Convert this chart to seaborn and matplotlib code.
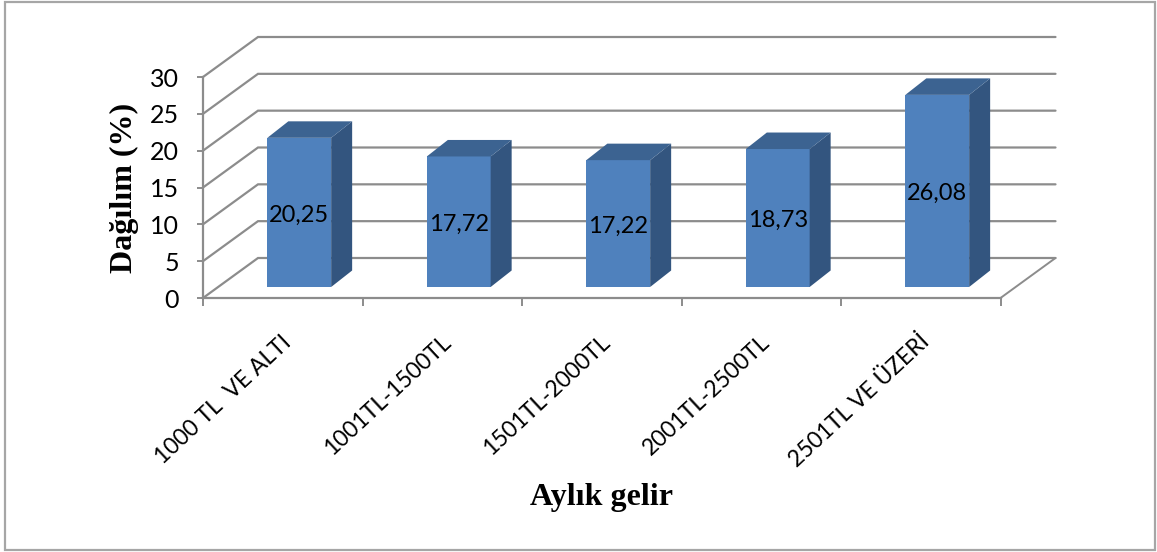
import matplotlib
matplotlib.use("Agg")
import matplotlib.pyplot as plt
from matplotlib.patches import Rectangle
from matplotlib.transforms import ScaledTranslation
import numpy as np
import pandas as pd
import seaborn as sns

gelir = ["1000 TL  VE ALTI", "1001TL-1500TL", "1501TL-2000TL", "2001TL-2500TL", "2501TL VE ÜZERİ"]
dagilim = [20.25, 17.72, 17.22, 18.73, 26.08]
etiket = ["20,25", "17,72", "17,22", "18,73", "26,08"]
yticks = [0, 5, 10, 15, 20, 25, 30]

sns.set_style("white")
plt.rcParams["font.family"] = ["Lato", "DejaVu Sans"]

grid_renk = "#8c8c8c"
W, H = 1157, 552
fig = plt.figure(figsize=(W / 100, H / 100), dpi=100)
ax = fig.add_axes([203 / W, (H - 298) / H, 797.5 / W, 221 / H])
ax.patch.set_alpha(0)

df = pd.DataFrame({"gelir": gelir, "dagilim": dagilim})
sns.barplot(data=df, x="gelir", y="dagilim", color="#4F81BD", saturation=1,
            width=0.4, ax=ax, zorder=3, linewidth=0)
ax.set_xlim(-0.5, 4.5)
ax.set_ylim(0, 30)

# pixel sizes of the fake 3d box, as data units
px = 797.5 / 5
py = 221 / 30
dx, dy = 55 / px, 40 / py      # back wall
bx, by = 21 / px, 16.5 / py    # bar depth
sx, sy = 16.5 / px, 11 / py    # bars stand inside the floor

# walls
for v in yticks:
    ax.plot([-0.5, -0.5 + dx, 4.5 + dx], [v, v + dy, v + dy], color=grid_renk,
            lw=1.6, clip_on=False, zorder=1, solid_joinstyle="miter")
ax.plot([4.5, 4.5 + dx], [0, dy], color=grid_renk, lw=1.4, clip_on=False, zorder=1)

# bars moved on the floor, side and top faces from the bar itself
for bar in ax.containers[0]:
    bar.set_x(bar.get_x() + sx)
    bar.set_y(sy)
    x0, x1 = bar.get_x(), bar.get_x() + bar.get_width()
    y0, y1 = bar.get_y(), bar.get_y() + bar.get_height()
    ax.fill([x1, x1 + bx, x1 + bx, x1], [y0, y0 + by, y1 + by, y1],
            color="#33557F", lw=0, clip_on=False, zorder=3)
    ax.fill([x0, x0 + bx, x1 + bx, x1], [y1, y1 + by, y1 + by, y1],
            color="#3C6391", lw=0, clip_on=False, zorder=3)

yazilar = ax.bar_label(ax.containers[0], labels=etiket, label_type="center", fontsize=17,
                       color="black", zorder=5)
for t in yazilar:
    t.xyann = (0, -2)

sns.despine(ax=ax, top=True, right=True)
for s in ["left", "bottom"]:
    ax.spines[s].set_color(grid_renk)
    ax.spines[s].set_linewidth(1.6)
    ax.spines[s].set_zorder(2)

ax.set_yticks(yticks)
ax.set_xticks(range(5))
ax.set_xticklabels(gelir, rotation=43, ha="right", rotation_mode="anchor")
ax.set_xticks(np.arange(-0.5, 5, 1), minor=True)
ax.tick_params(axis="x", which="major", length=0, pad=24, labelsize=16.4, labelcolor="black")
ax.tick_params(axis="x", which="minor", length=6, width=1.4, color=grid_renk, bottom=True)
ax.tick_params(axis="y", length=4.5, width=1.4, color=grid_renk, left=True, pad=13,
               labelsize=18, labelcolor="black")
kay = ScaledTranslation(-2 / 100, 0, fig.dpi_scale_trans)
for t in ax.get_xticklabels():
    t.set_transform(t.get_transform() + kay)

ax.set_xlabel("Aylık gelir", family="Liberation Serif", weight="bold", fontsize=23, color="black")
ax.xaxis.set_label_coords((601 - 203) / 797.5, -(498 - 298) / 221)
ax.xaxis.label.set_va("center")
ax.set_ylabel("Dağılım (%)", family="Liberation Serif", weight="bold", fontsize=23, color="black")
ax.yaxis.set_label_coords((124 - 203) / 797.5, (298 - 188) / 221)
ax.yaxis.label.set_va("center")

# chart frame
fig.add_artist(Rectangle((5 / W, 2 / H), 1150 / W, 548 / H, transform=fig.transFigure,
                         fill=False, edgecolor="#a6a6a6", lw=1.6))

fig.savefig("out.png", dpi=100)
